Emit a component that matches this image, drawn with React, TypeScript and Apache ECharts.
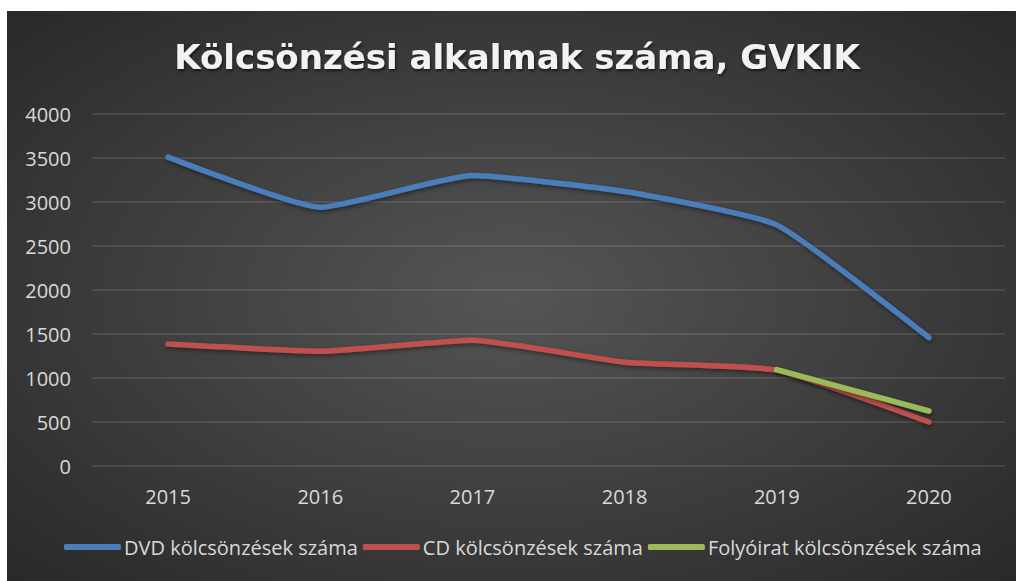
import React, { useEffect, useRef } from "react";
import * as echarts from "echarts";

const titleText = "Kölcsönzési alkalmak száma, GVKIK";
const years = ["2015", "2016", "2017", "2018", "2019", "2020"];
const dvdName = "DVD kölcsönzések száma";
const cdName = "CD kölcsönzések száma";
const folyName = "Folyóirat kölcsönzések száma";
const dvdValues = [3510, 2940, 3300, 3120, 2740, 1460];
const cdValues = [1385, 1305, 1430, 1180, 1090, 500];
const folyValues: (number | null)[] = [null, null, null, null, 1095, 625];
const yTicks = { min: 0, max: 4000, interval: 500 };

const FONT = "'Open Sans', 'DejaVu Sans', sans-serif";

export default function App() {
  const ref = useRef<HTMLDivElement>(null);
  useEffect(() => {
    if (!ref.current) return;
    const chart = echarts.init(ref.current, undefined, { renderer: "svg" });
    const mkLine = (name: string, data: (number | null)[], color: string) => ({
      name,
      type: "line",
      data,
      smooth: 0.15,
      symbol: "none",
      connectNulls: false,
      lineStyle: {
        width: 5.5,
        color,
        cap: "round",
        join: "round",
        shadowColor: "rgba(0,0,0,0.45)",
        shadowBlur: 4,
        shadowOffsetX: 1,
        shadowOffsetY: 2,
      },
      itemStyle: { color },
    });
    chart.setOption({
      animation: false,
      backgroundColor: {
        type: "radial",
        x: 0.5,
        y: 0.5,
        r: 0.75,
        colorStops: [
          { offset: 0, color: "#555555" },
          { offset: 1, color: "#262626" },
        ],
      },
      graphic: [
        {
          type: "text",
          x: 510,
          y: 46,
          style: {
            text: titleText,
            fontFamily: "'DejaVu Sans', sans-serif",
            fontSize: 34,
            fontWeight: "bold",
            fill: "#f2f2f2",
            textAlign: "center",
            textVerticalAlign: "middle",
            textShadowColor: "rgba(0,0,0,0.6)",
            textShadowBlur: 3,
            textShadowOffsetX: 1,
            textShadowOffsetY: 2,
          },
        },
      ],
      grid: { left: 85, right: 11, top: 103, bottom: 115 },
      xAxis: {
        type: "category",
        data: years,
        boundaryGap: true,
        axisLine: { show: false },
        axisTick: { show: false },
        axisLabel: {
          color: "#d9d9d9",
          fontFamily: FONT,
          fontSize: 20,
          margin: 20,
        },
      },
      yAxis: {
        type: "value",
        min: yTicks.min,
        max: yTicks.max,
        interval: yTicks.interval,
        axisLine: { show: false },
        axisTick: { show: false },
        axisLabel: {
          color: "#d9d9d9",
          fontFamily: FONT,
          fontSize: 20,
          margin: 21,
          formatter: (v: number) => String(v),
        },
        splitLine: { lineStyle: { color: "rgba(217,217,217,0.16)", width: 1.5 } },
      },
      legend: {
        bottom: 19,
        left: 52,
        itemWidth: 57,
        itemHeight: 6,
        itemGap: 5,
        icon: "roundRect",
        textStyle: {
          color: "#d9d9d9",
          fontFamily: FONT,
          fontSize: 20,
          padding: [0, 0, 0, -2],
        },
        data: [dvdName, cdName, folyName],
      },
      series: [
        mkLine(dvdName, dvdValues, "#4a7ebb"),
        mkLine(cdName, cdValues, "#c0504d"),
        mkLine(folyName, folyValues, "#9bbb59"),
      ],
    });
    return () => chart.dispose();
  }, []);
  return (
    <div
      ref={ref}
      style={{ position: "absolute", left: 7, top: 11, width: 1009, height: 570 }}
    />
  );
}
